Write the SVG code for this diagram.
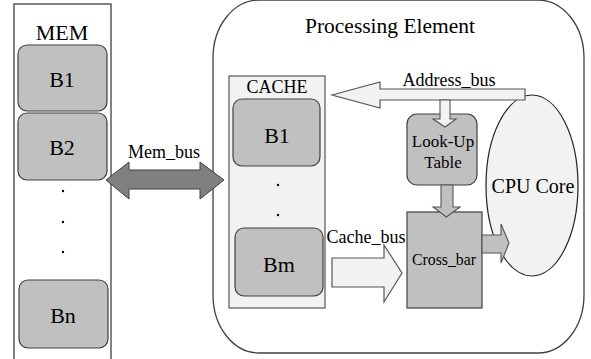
<svg xmlns="http://www.w3.org/2000/svg" width="591" height="359" viewBox="0 0 591 359">
<style>
text{fill:#000;text-anchor:middle}
.t22{font-size:22px}
.t20{font-size:20px}
.t18{font-size:18px}
.t17{font-size:17px}
.frame{fill:#fff;stroke:#404040;stroke-width:1.3}
.light{fill:#f2f2f2;stroke:#555;stroke-width:1.2}
.blk{fill:#c0c0c0;stroke:#404040;stroke-width:1.2}
.dot{fill:#000}
</style>
<rect width="591" height="359" fill="#fff"/>
<g font-family="Liberation Serif, Times New Roman, DejaVu Serif, serif">
<g id="mem">
<rect class="frame" x="14" y="4" width="97" height="370"/>
<text class="t22" x="62" y="40">MEM</text>
</g>
<g id="mem-b1">
<rect class="blk" x="18" y="45" width="89" height="66" rx="9"/>
<text class="t22" x="62" y="87">B1</text>
</g>
<g id="mem-b2">
<rect class="blk" x="18" y="113" width="89" height="67" rx="9"/>
<text class="t22" x="62" y="155">B2</text>
</g>
<g id="mem-dots">
<circle class="dot" cx="63" cy="191" r="1.2"/>
<circle class="dot" cx="63" cy="222" r="1.2"/>
<circle class="dot" cx="63" cy="252" r="1.2"/>
</g>
<g id="mem-bn">
<rect class="blk" x="19" y="280" width="89" height="68" rx="9"/>
<text class="t22" x="63" y="323">Bn</text>
</g>
<g id="pe">
<rect class="frame" x="213" y="0" width="371" height="353" rx="46" ry="58"/>
<text class="t22" x="390" y="33" textLength="170" lengthAdjust="spacingAndGlyphs">Processing Element</text>
</g>
<g id="cache">
<rect class="light" x="229" y="76" width="96" height="232"/>
<text class="t18" x="277" y="93">CACHE</text>
</g>
<g id="cache-b1">
<rect class="blk" x="233" y="99" width="87" height="67" rx="9"/>
<text class="t22" x="277" y="143">B1</text>
</g>
<g id="cache-dots">
<circle class="dot" cx="278" cy="185" r="1.2"/>
<circle class="dot" cx="278" cy="215" r="1.2"/>
</g>
<g id="cache-bm">
<rect class="blk" x="235" y="228" width="88" height="68" rx="9"/>
<text class="t22" x="279" y="272">Bm</text>
</g>
<g id="cpu">
<ellipse class="light" cx="532" cy="185.5" rx="46" ry="90.5" style="stroke:#222"/>
<text class="t20" x="533" y="193">CPU Core</text>
</g>
<g id="lut">
<rect class="blk" x="407" y="114" width="70" height="71" rx="10"/>
<text class="t17" x="443" y="147">Look-Up</text>
<text class="t17" x="443" y="168">Table</text>
</g>
<g id="crossbar">
<rect class="blk" x="407" y="212" width="75" height="96"/>
<text class="t17" x="444" y="265" textLength="64" lengthAdjust="spacingAndGlyphs">Cross_bar</text>
</g>
<g id="connectors">
<polygon points="106,180 129,162 129,170 200,170 200,162 224,180 200,199 200,189 129,189 129,199" fill="#808080" stroke="#404040" stroke-width="1"/>
<text class="t18" x="164" y="158">Mem_bus</text>
<polygon class="light" points="332,95 380,82 380,89 525,89 525,100 380,100 380,108"/>
<text class="t18" x="449" y="86">Address_bus</text>
<polygon points="440,100 450,100 450,119 456,119 445,127 433,119 440,119" fill="#f2f2f2" stroke="#555" stroke-width="1.1"/>
<polygon points="441,185 453,185 453,207 460,207 446.5,217 433,207 441,207" fill="#c0c0c0" stroke="#555" stroke-width="1.1"/>
<polygon class="light" points="332,258 384,258 384,245 402,273 384,302 384,287 332,287"/>
<text class="t18" x="366" y="243">Cache_bus</text>
<polygon points="482,235 501,235 501,224 509,243 501,263 501,253 482,253" fill="#c0c0c0" stroke="#555" stroke-width="1.1"/>
</g>
</g>
</svg>
